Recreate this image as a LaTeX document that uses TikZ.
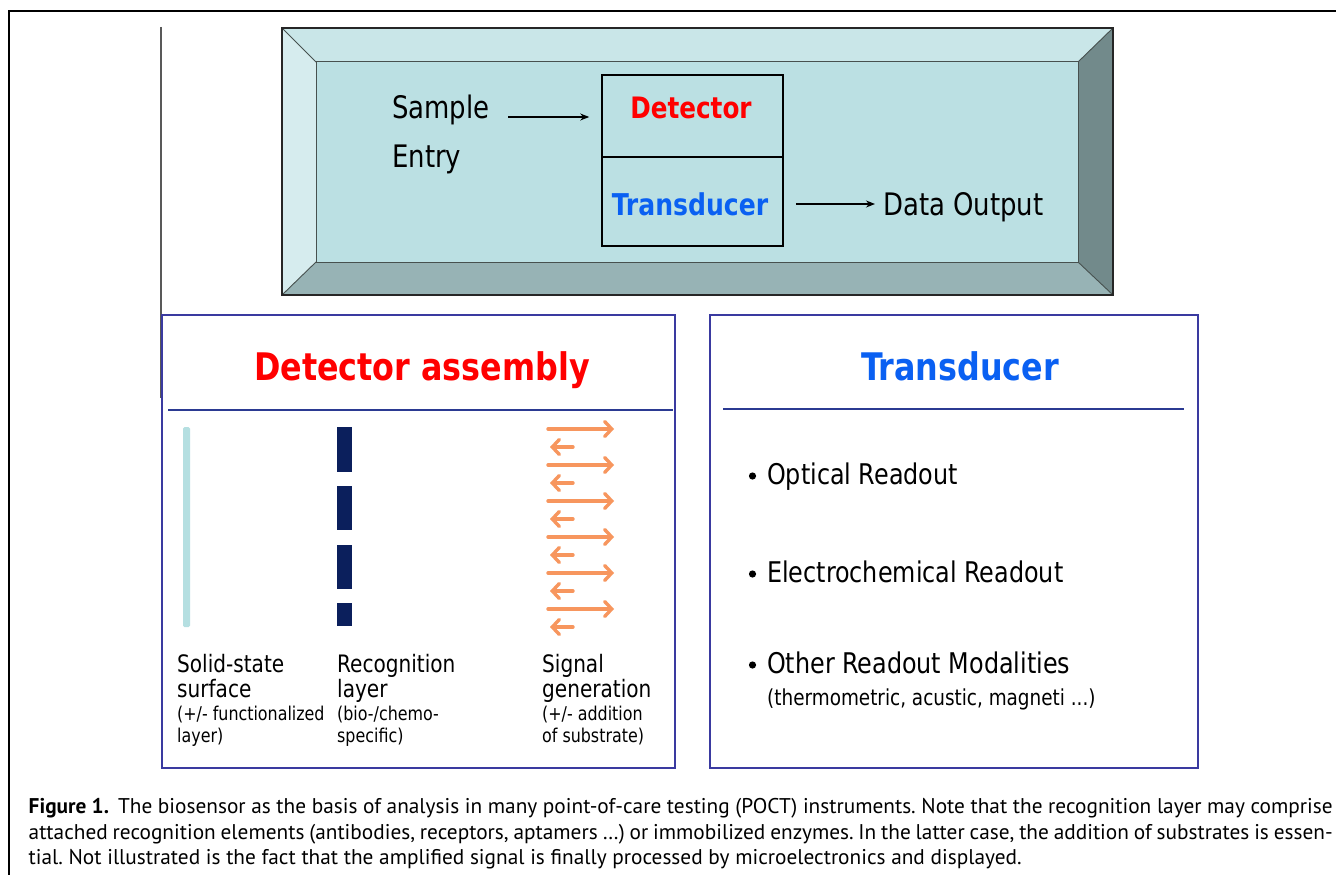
\documentclass[tikz,border=0pt]{standalone}
\usepackage{fontspec}
\usetikzlibrary{arrows.meta}
\newfontfamily\dfont[FakeStretch=0.93]{DejaVu Sans Condensed}
\newfontfamily\capfont{PT Sans}
\definecolor{bevtop}{HTML}{C9E6E8}
\definecolor{bevleft}{HTML}{D6ECEE}
\definecolor{bevface}{HTML}{BBE0E3}
\definecolor{bevbot}{HTML}{97B3B5}
\definecolor{bevright}{HTML}{728A8B}
\definecolor{bevedge}{HTML}{47514F}
\definecolor{panelblue}{HTML}{3A3AA0}
\definecolor{rulenavy}{HTML}{2B3A92}
\definecolor{detred}{HTML}{FF0000}
\definecolor{transblue}{HTML}{0A60F2}
\definecolor{layernavy}{HTML}{0B1F5C}
\definecolor{surfcyan}{HTML}{B5DFE1}
\definecolor{sigorange}{HTML}{F7965E}
\tikzset{
  txt/.style={font=\dfont\fontsize{31}{36}\selectfont, inner sep=0pt, anchor=base west},
  bullettxt/.style={font=\dfont\fontsize{28.5}{33}\selectfont, inner sep=0pt, anchor=base west},
  lbl/.style={font=\dfont\fontsize{24}{28}\selectfont, inner sep=0pt, anchor=base west},
  sublbl/.style={font=\dfont\fontsize{19}{22}\selectfont, inner sep=0pt, anchor=base west},
  title/.style={font=\dfont\bfseries\fontsize{38}{44}\selectfont, inner sep=0pt, anchor=base},
  unitbox/.style={draw=black, line width=1.6pt, minimum width=181pt, inner sep=0pt},
  flow/.style={line width=1.2pt, -{Stealth[length=9pt,width=7pt]}},
  panel/.style={draw=panelblue, line width=2pt},
  sig/.style={draw=sigorange, line width=3.4pt, line cap=round,
    -{Straight Barb[length=7pt,width=15pt,line cap=round]}},
  captxt/.style={font=\capfont\fontsize{21.3}{25}\selectfont, inner sep=0pt, anchor=base west},
}
\begin{document}
\frenchspacing
\begin{tikzpicture}[x=1pt,y=-1pt]
\useasboundingbox (0,0) rectangle (1336,875);
\fill[white] (0,0) rectangle (1336,875);

% page frame and side rule
\draw[line width=1.5pt] (9,875) -- (9,11) -- (1336,11);
\draw[black!65, line width=1.2pt] (161,27) -- (161,398);

% bevelled instrument housing
\fill[bevtop]   (282,28) -- (1113,28) -- (1078,62) -- (316,62) -- cycle;
\fill[bevleft]  (282,28) -- (316,62) -- (316,262) -- (282,295) -- cycle;
\fill[bevbot]   (282,295) -- (316,262) -- (1078,262) -- (1113,295) -- cycle;
\fill[bevright] (1113,28) -- (1078,62) -- (1078,262) -- (1113,295) -- cycle;
\fill[bevface]  (316,62) rectangle (1078,262);
\draw[bevedge, line width=0.9pt] (282,28) -- (316,62) (1113,28) -- (1078,62)
  (282,295) -- (316,262) (1113,295) -- (1078,262);
\draw[bevedge, line width=1pt] (316,62) rectangle (1078,262);
\draw[black!85, line width=1.6pt] (282,28) rectangle (1113,295);

% detector / transducer unit
\node[unitbox, minimum height=82pt] (det) at (692.5,116) {};
\node[unitbox, minimum height=89pt] (trans) at (692.5,201.5) {};
\node[title, font=\dfont\bfseries\fontsize{29.5}{34}\selectfont, text=detred] (detlbl) at (691,118) {Detector};
\node[title, font=\dfont\bfseries\fontsize{30}{34}\selectfont, text=transblue] (translbl) at (690,215) {Transducer};

\node[txt] (sample) at (392,118) {Sample};
\node[txt] (entry) at (392,167) {Entry};
\coordinate (sampleout) at (508,117);
\draw[flow, shorten >=12pt] (sampleout) -- (sampleout -| det.west);

\node[txt] (dataout) at (883,215) {Data Output};
\draw[flow, shorten <=12pt, shorten >=8pt] (trans.east |- 0,204) -- (dataout.west |- 0,204);

% detector assembly panel
\draw[panel] (162,315) rectangle (675,768);
\node[title, text=detred] (dettitle) at (422,380) {Detector assembly};
\draw[rulenavy, line width=1.8pt] (168,410) -- (673,410);

% solid-state surface
\fill[surfcyan, rounded corners=1.5pt] (183,427) rectangle (190,627);
% recognition layer segments
\foreach \ya/\yb in {427/472, 486/530, 545/589, 603/626}
  \fill[layernavy] (337,\ya) rectangle (352,\yb);
% signal generation arrows
\foreach \y in {429,465,501,537,573,609}
  \draw[sig] (548,\y) -- (614,\y);
\foreach \y in {447,483,519,555,591,627}
  \draw[sig] (573,\y) -- (550,\y);

\node[lbl] (s1) at (177,672) {Solid-state};
\node[lbl] (s2) at (177,697) {surface};
\node[sublbl] (s3) at (177,720) {(+/- functionalized};
\node[sublbl] (s4) at (177,742) {layer)};

\node[lbl] (r1) at (337,672) {Recognition};
\node[lbl] (r2) at (337,697) {layer};
\node[sublbl] (r3) at (337,720) {(bio-/chemo-};
\node[sublbl] (r4) at (337,742) {specific)};

\node[lbl] (g1) at (542,672) {Signal};
\node[lbl] (g2) at (542,697) {generation};
\node[sublbl] (g3) at (542,720) {(+/- addition};
\node[sublbl] (g4) at (542,742) {of substrate)};

% transducer panel
\draw[panel] (710,315) rectangle (1198,768);
\node[title, text=transblue] (transtitle) at (960,380) {Transducer};
\draw[rulenavy, line width=1.8pt] (723,409) -- (1184,409);

\fill (752.5,476) circle (3.6pt);
\node[bullettxt] (opt) at (767,484) {Optical Readout};
\fill (752.5,574) circle (3.6pt);
\node[bullettxt] (elec) at (767,582) {Electrochemical Readout};
\fill (752.5,665) circle (3.6pt);
\node[bullettxt] (other) at (767,673) {Other Readout Modalities};
\node[sublbl, font=\dfont\fontsize{22}{26}\selectfont] (otherex) at (767,705) {(thermometric, acustic, magneti ...)};

% caption
\node[captxt] (cap1) at (28.5,813) {\makebox[1304pt][s]{\textbf{Figure 1.}\hspace{9pt}The biosensor as the basis of analysis in many point-of-care testing (POCT) instruments. Note that the recognition layer may comprise}};
\node[captxt] (cap2) at (28.5,839) {\makebox[1304pt][s]{attached recognition elements (antibodies, receptors, aptamers~\ldots) or immobilized enzymes. In the latter case, the addition of substrates is essen-}};
\node[captxt] (cap3) at (28.5,864) {tial. Not illustrated is the fact that the amplified signal is finally processed by microelectronics and displayed.};
\end{tikzpicture}
\end{document}
